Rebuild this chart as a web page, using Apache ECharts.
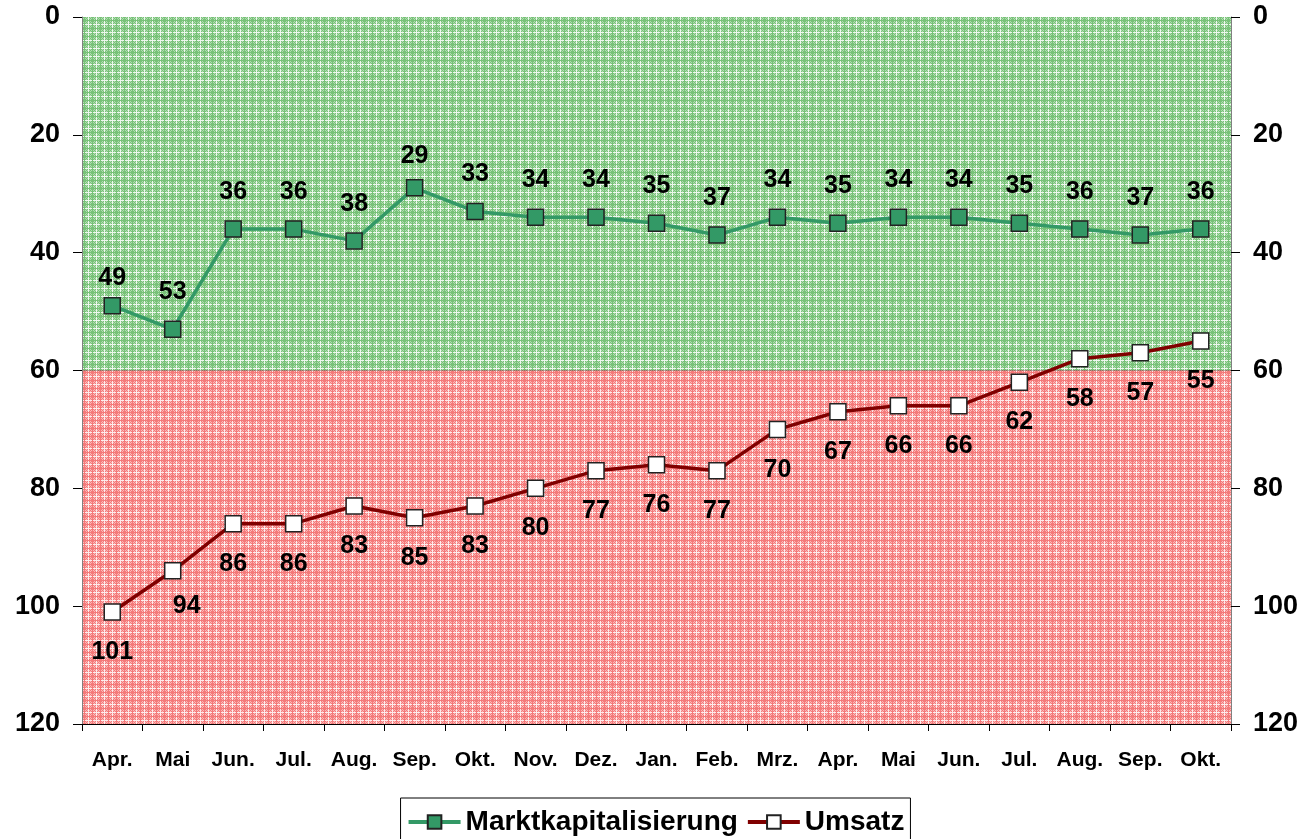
<!DOCTYPE html>
<html><head><meta charset="utf-8">
<script src="https://cdn.jsdelivr.net/npm/echarts@6/dist/echarts.min.js"></script>
<style>html,body{margin:0;padding:0;background:#fff}#c{width:1311px;height:839px}</style>
</head><body><div id="c"></div>
<script>
const categories = ['Apr.','Mai','Jun.','Jul.','Aug.','Sep.','Okt.','Nov.','Dez.','Jan.','Feb.','Mrz.','Apr.','Mai','Jun.','Jul.','Aug.','Sep.','Okt.'];
const marktkap = [49,53,36,36,38,29,33,34,34,35,37,34,35,34,34,35,36,37,36];
const umsatz = [101,94,86,86,83,85,83,80,77,76,77,70,67,66,66,62,58,57,55];
const yTicks = [0,20,40,60,80,100,120];

function makePattern(base, dark, light) {
  const c = document.createElement('canvas');
  c.width = 8; c.height = 8;
  const g = c.getContext('2d');
  g.fillStyle = base; g.fillRect(0,0,8,8);
  for (let y=0;y<8;y++) for (let x=0;x<8;x++) {
    if ((x+y)%2===0) { g.fillStyle = dark; g.fillRect(x,y,1,1); }
  }
  g.fillStyle = light; g.fillRect(0,0,8,1); g.fillRect(0,0,1,8);
  g.fillStyle = dark; g.fillRect(4,0,1,8); g.fillRect(0,4,8,1);
  return c;
}
const greenPat = makePattern('#b0dcb0','#78c278','#eef8ee');
const redPat = makePattern('#fab8b8','#f47a7a','#fdecec');

const FONT = 'Liberation Sans, Arial, sans-serif';
const labelFont = {color:'#000', fontWeight:'bold', fontSize:25, fontFamily:FONT};
const chart = echarts.init(document.getElementById('c'));
const yAxisCommon = {
  type:'value', min:0, max:120, interval:20, inverse:true,
  axisLine:{show:true, onZero:false, lineStyle:{color:'#808080', width:1}},
  axisTick:{show:true, length:9, lineStyle:{color:'#000'}},
  splitLine:{show:true, lineStyle:{color:'#000', width:1}},
  axisLabel:{color:'#000', fontWeight:'bold', fontSize:27, fontFamily:FONT, margin:22,
    formatter: v => yTicks.indexOf(v) >= 0 ? String(v) : ''}
};
// label distance tweaks (Excel placed a few labels closer)
const marktData = marktkap.map((v, i) => {
  if (i === 0) return {value:v, label:{distance:6}};
  if (i === 5) return {value:v, label:{distance:10}};
  return v;
});
const umsatzData = umsatz.map((v, i) => {
  if (i === 1) return {value:v, label:{distance:14, offset:[14,0]}};
  return v;
});
chart.setOption({
  animation:false,
  grid:{left:82, right:80, top:17, bottom:115, containLabel:false},
  legend:{
    top:798, left:'center',
    data:['Marktkapitalisierung','Umsatz'],
    borderColor:'#000', borderWidth:1, padding:[10,6,12,6],
    itemWidth:52, itemHeight:17, itemGap:8,
    lineStyle:{width:4},
    textStyle:{color:'#000', fontWeight:'bold', fontSize:28, fontFamily:FONT}
  },
  xAxis:{
    type:'category', data:categories, boundaryGap:true, position:'bottom',
    axisLine:{show:true, onZero:false, lineStyle:{color:'#000'}},
    axisTick:{show:true, length:7, lineStyle:{color:'#000'}},
    axisLabel:{color:'#000', fontWeight:'bold', fontSize:21, fontFamily:FONT, margin:26, interval:0}
  },
  yAxis:[Object.assign({}, yAxisCommon, {position:'left'}), Object.assign({}, yAxisCommon, {position:'right', splitLine:{show:false}})],
  series:[
    {
      name:'Marktkapitalisierung', type:'line', data:marktData, yAxisIndex:0, z:3,
      symbol:'rect', symbolSize:16,
      lineStyle:{color:'#339966', width:3.5},
      itemStyle:{color:'#339966', borderColor:'#222', borderWidth:1.5},
      label:Object.assign({show:true, position:'top', distance:16}, labelFont),
      markArea:{silent:true, z:0, data:[
        [{yAxis:0, itemStyle:{color:{image:greenPat, repeat:'repeat'}}},{yAxis:60}],
        [{yAxis:60, itemStyle:{color:{image:redPat, repeat:'repeat'}}},{yAxis:120}]
      ]}
    },
    {
      name:'Umsatz', type:'line', data:umsatzData, yAxisIndex:0, z:4,
      symbol:'rect', symbolSize:16,
      lineStyle:{color:'#800000', width:3.5},
      itemStyle:{color:'#ffffff', borderColor:'#222', borderWidth:1.5},
      label:Object.assign({show:true, position:'bottom', distance:19}, labelFont)
    }
  ]
});
</script></body></html>
